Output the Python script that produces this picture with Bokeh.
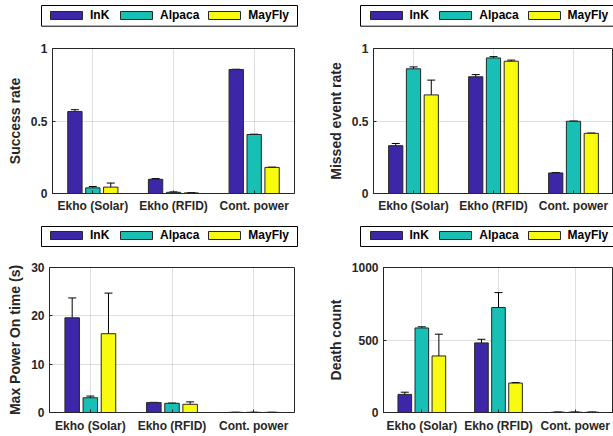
from bokeh.plotting import figure
from bokeh.models import (ColumnDataSource, Whisker, TeeHead, Legend, LegendItem,
                          FactorRange, Range1d, BoxAnnotation)
from bokeh.transform import dodge
from bokeh.layouts import column, row
from bokeh.embed import file_html
from bokeh.resources import INLINE

# ---------------- data ----------------
categories = ["Ekho (Solar)", "Ekho (RFID)", "Cont. power"]
series_names = ["InK", "Alpaca", "MayFly"]

success_ink = [0.565, 0.098, 0.855]
success_ink_err = [0.013, 0.005, 0.002]
success_alpaca = [0.039, 0.008, 0.407]
success_alpaca_err = [0.009, 0.003, 0.002]
success_mayfly = [0.044, 0.004, 0.180]
success_mayfly_err = [0.028, 0.002, 0.002]

missed_ink = [0.330, 0.805, 0.142]
missed_ink_err = [0.015, 0.015, 0.003]
missed_alpaca = [0.860, 0.935, 0.498]
missed_alpaca_err = [0.013, 0.009, 0.002]
missed_mayfly = [0.680, 0.912, 0.415]
missed_mayfly_err = [0.102, 0.008, 0.002]

ontime_ink = [19.6, 2.05, 0.03]
ontime_ink_err = [4.1, 0.05, 0.01]
ontime_alpaca = [3.05, 1.9, 0.03]
ontime_alpaca_err = [0.35, 0.05, 0.01]
ontime_mayfly = [16.3, 1.7, 0.03]
ontime_mayfly_err = [8.4, 0.5, 0.01]

death_ink = [125, 480, 2]
death_ink_err = [15, 25, 0.5]
death_alpaca = [583, 724, 2]
death_alpaca_err = [8, 103, 0.5]
death_mayfly = [390, 203, 2]
death_mayfly_err = [150, 4, 0.5]

# ---------------- style ----------------
FONT = "Liberation Sans"
AX = "#262626"
COLORS = ["#3E26A8", "#17BFB4", "#F9FB0E"]
OFFSETS = [-0.2222, 0.0, 0.2222]
BAR_W = 0.1778
TOTAL_W = 613


def make_legend_strip(height, boxes, item_lefts, item_vy, series_vals):
    """A strip holding the legends above a row of panels.
    boxes: list of (left, right, top, bottom) legend frames in pixels.
    item_lefts: per legend box, the left pixel of each item."""
    lf = figure(width=TOTAL_W, height=height, output_backend="svg",
                toolbar_location=None, min_border=0, x_axis_type=None,
                y_axis_type=None, outline_line_color=None,
                x_range=Range1d(0, TOTAL_W), y_range=Range1d(height, 0))
    lf.grid.visible = False
    # hidden renderers carrying each series (used only for the legend swatches)
    rends = []
    for color, vals in zip(COLORS, series_vals):
        src = ColumnDataSource(dict(x=list(range(len(categories))), top=vals))
        r = lf.vbar(x="x", top="top", width=0.5, source=src, fill_color=color,
                    line_color=AX, line_width=1)
        r.visible = False
        rends.append(r)
    for (l, rgt, t, b), lefts in zip(boxes, item_lefts):
        lf.add_layout(BoxAnnotation(left=l, right=rgt, top=t, bottom=b,
                                    fill_color="white", fill_alpha=1,
                                    line_color="black", line_width=1,
                                    line_alpha=1))
        for name, r, x0 in zip(series_names, rends, lefts):
            leg = Legend(items=[LegendItem(label=name, renderers=[r])],
                         location=(x0, item_vy), orientation="horizontal",
                         glyph_width=40, glyph_height=10, label_height=10,
                         label_standoff=4, spacing=0, padding=0, margin=0,
                         label_text_font=FONT, label_text_font_style="bold",
                         label_text_font_size="12px", label_text_color="black",
                         border_line_color=None, background_fill_alpha=0)
            lf.add_layout(leg)
    return lf


def make_panel(width, height, mbl, mbr, mbt, mbb, ylabel, ymax, yticks,
               ytick_labels, vals, errs, xstandoff):
    p = figure(x_range=FactorRange(*categories), y_range=Range1d(0, ymax),
               width=width, height=height, output_backend="svg",
               toolbar_location=None, min_border_left=mbl,
               min_border_right=mbr, min_border_top=mbt, min_border_bottom=mbb)
    for name, color, off, v, e in zip(series_names, COLORS, OFFSETS, vals, errs):
        src = ColumnDataSource(dict(cat=categories, val=v,
                                    lo=[a - b for a, b in zip(v, e)],
                                    hi=[a + b for a, b in zip(v, e)]))
        p.vbar(x=dodge("cat", off, range=p.x_range), top="val",
               width=BAR_W, source=src, fill_color=color,
               line_color=AX, line_width=1)
        w = Whisker(base=dodge("cat", off, range=p.x_range), upper="hi",
                    lower="lo", source=src, line_color="black", line_width=1,
                    upper_head=TeeHead(size=8, line_color="black", line_width=1),
                    lower_head=TeeHead(size=8, line_color="black", line_width=1))
        p.add_layout(w)

    for ax in (p.xaxis, p.yaxis):
        ax.axis_line_color = AX
        ax.major_tick_line_color = AX
        ax.major_tick_in = 3
        ax.major_tick_out = 0
        ax.minor_tick_in = 0
        ax.minor_tick_out = 0
        ax.major_label_text_font = FONT
        ax.major_label_text_font_style = "bold"
        ax.major_label_text_font_size = "12px"
        ax.major_label_text_color = AX
    p.xaxis.major_label_standoff = xstandoff
    p.yaxis.major_label_standoff = 5
    p.yaxis.ticker = yticks
    p.yaxis.major_label_overrides = {t: s for t, s in zip(yticks, ytick_labels)}
    p.yaxis.axis_label = ylabel
    p.yaxis.axis_label_text_font = FONT
    p.yaxis.axis_label_text_font_style = "bold"
    p.yaxis.axis_label_text_font_size = "14px"
    p.yaxis.axis_label_text_color = AX
    p.yaxis.axis_label_standoff = 5

    p.xgrid.grid_line_color = AX
    p.xgrid.grid_line_alpha = 0.15
    p.ygrid.grid_line_color = AX
    p.ygrid.grid_line_alpha = 0.15
    p.outline_line_color = AX
    p.outline_line_alpha = 1
    p.outline_line_width = 1
    return p


legend_top = make_legend_strip(
    30, [(41, 297, 5, 25.7), (360, 616, 5, 25.7)],
    [[46, 116, 204.3], [365.5, 435.3, 523.6]], 8,
    [success_ink, success_alpaca, success_mayfly])
legend_bottom = make_legend_strip(
    30, [(41, 297, 8, 28), (360, 616, 8, 28)],
    [[46, 116, 204.3], [365.5, 435.3, 523.6]], 6,
    [ontime_ink, ontime_alpaca, ontime_mayfly])

p1 = make_panel(305, 188, 52, 11, 18, 25, "Success rate", 1, [0, 0.5, 1],
                ["0", "0.5", "1"],
                [success_ink, success_alpaca, success_mayfly],
                [success_ink_err, success_alpaca_err, success_mayfly_err], 5)
p2 = make_panel(308, 188, 68, 0, 18, 25, "Missed event rate", 1, [0, 0.5, 1],
                ["0", "0.5", "1"],
                [missed_ink, missed_alpaca, missed_mayfly],
                [missed_ink_err, missed_alpaca_err, missed_mayfly_err], 5)
p3 = make_panel(305, 188, 49, 11, 19, 24, "Max Power On time (s)", 30,
                [0, 10, 20, 30], ["0", "10", "20", "30"],
                [ontime_ink, ontime_alpaca, ontime_mayfly],
                [ontime_ink_err, ontime_alpaca_err, ontime_mayfly_err], 6)
p4 = make_panel(308, 188, 78, 0, 19, 24, "Death count", 1000,
                [0, 500, 1000], ["0", "500", "1000"],
                [death_ink, death_alpaca, death_mayfly],
                [death_ink_err, death_alpaca_err, death_mayfly_err], 6)

layout = column(legend_top, row(p1, p2, spacing=0),
                legend_bottom, row(p3, p4, spacing=0), spacing=0)

open("out.html", "w").write(file_html(layout, INLINE))
